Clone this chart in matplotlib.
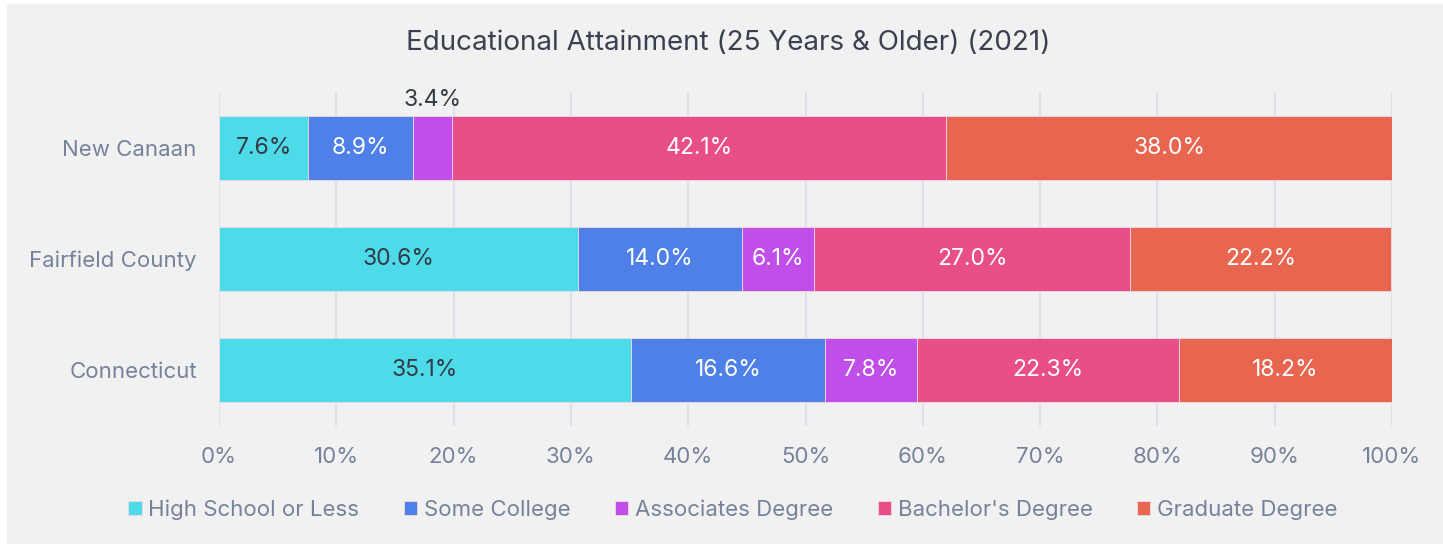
import matplotlib.pyplot as plt
from matplotlib.patches import Rectangle
import numpy as np

plt.rcParams['font.family'] = ['Inter', 'DejaVu Sans']

# Data
places = ['Connecticut', 'Fairfield County', 'New Canaan']
levels = ['High School or Less', 'Some College', 'Associates Degree',
          "Bachelor's Degree", 'Graduate Degree']
high_school = [35.1, 30.6, 7.6]
some_college = [16.6, 14.0, 8.9]
associates = [7.8, 6.1, 3.4]
bachelors = [22.3, 27.0, 42.1]
graduate = [18.2, 22.2, 38.0]
x_ticks = [0, 10, 20, 30, 40, 50, 60, 70, 80, 90, 100]

series = [high_school, some_college, associates, bachelors, graduate]
colors = ['#4edbe9', '#4e80e8', '#bf4fe8', '#e84f88', '#e8664f']
label_colors = ['#333a45', 'white', 'white', 'white', 'white']

W, H = 1443, 544
fig = plt.figure(figsize=(W / 100, H / 100), dpi=100, facecolor='white')
fig.patches.append(Rectangle((7 / W, 0), 1, 1 - 4 / H, transform=fig.transFigure,
                             facecolor='#f1f1f1', edgecolor='none', zorder=-10))

ax = fig.add_axes([219 / W, 1 - 426 / H, (1392 - 219) / W, (426 - 92) / H])
ax.set_facecolor('none')

y = np.arange(len(places))
left = np.zeros(len(places))
for vals, col, lc, name in zip(series, colors, label_colors, levels):
    vals = np.array(vals)
    ax.barh(y, vals, left=left, height=0.577, color=col, edgecolor='#f3d9e6',
            linewidth=0.6, label=name, zorder=3)
    for yi, v, l in zip(y, vals, left):
        if v < 5:
            ax.text(l + v / 2, yi + 0.33, f'{v:.1f}%', ha='center', va='bottom',
                    color='#333a45', fontsize=16.5, zorder=4)
        else:
            ax.text(l + v / 2, yi, f'{v:.1f}%', ha='center', va='center',
                    color=lc, fontsize=16.5, zorder=4)
    left += vals

ax.set_xlim(0, 100)
ax.set_ylim(-0.505, 2.505)
ax.set_xticks(x_ticks)
ax.set_xticklabels([f'{t}%' for t in x_ticks])
ax.set_yticks(y)
ax.set_yticklabels(places)
ax.tick_params(axis='both', length=0, labelsize=16, colors='#76829a')
ax.tick_params(axis='x', pad=15)
ax.tick_params(axis='y', pad=16)
ax.grid(axis='x', color='#dde0e8', linewidth=1.5, zorder=0)
for s in ax.spines.values():
    s.set_visible(False)

fig.text(728 / W, 1 - 43 / H, 'Educational Attainment (25 Years & Older) (2021)',
         ha='center', va='center', fontsize=20, color='#3a4050')

leg = fig.legend(loc='center', bbox_to_anchor=(733 / W, 1 - 510 / H), ncol=5,
                 frameon=False, fontsize=16, handlelength=0.6, handleheight=0.6,
                 handletextpad=0.3, columnspacing=2.0, labelcolor='#76829a')

fig.savefig('out.png', dpi=100, facecolor=fig.get_facecolor())
